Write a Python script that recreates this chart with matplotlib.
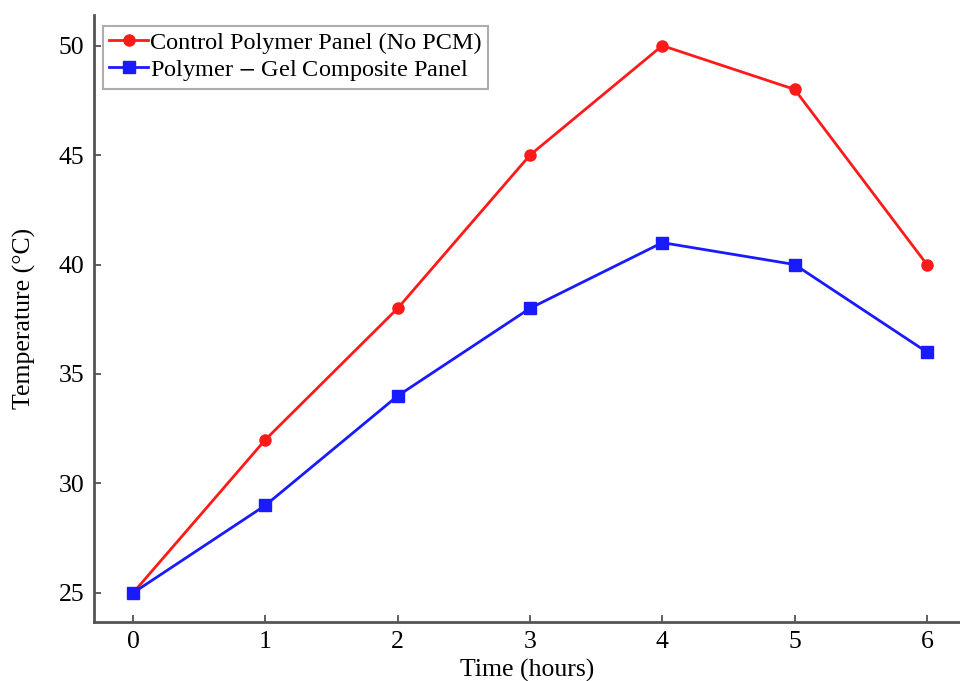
import matplotlib
matplotlib.use("Agg")
import matplotlib.pyplot as plt

plt.rcParams['font.family'] = ['Liberation Serif', 'DejaVu Serif']
plt.rcParams['mathtext.fontset'] = 'stix'

time_hours = [0, 1, 2, 3, 4, 5, 6]
control_temp = [25, 32, 38, 45, 50, 48, 40]
gel_temp = [25, 29, 34, 38, 41, 40, 36]
x_ticks = [0, 1, 2, 3, 4, 5, 6]
y_ticks = [25, 30, 35, 40, 45, 50]

fig = plt.figure(figsize=(9.6, 6.81), dpi=100)
ax = fig.add_axes([0.098, 0.087, 0.902, 0.891])

ax.plot(time_hours, control_temp, color='#ff1a1a', lw=2, marker='o', ms=8,
        label='Control Polymer Panel (No PCM)')
ax.plot(time_hours, gel_temp, color='#1a1aff', lw=2, marker='s', ms=8,
        label='Polymer $-$ Gel Composite Panel')

ax.set_xlim(-0.295, 6.25)
ax.set_ylim(23.68, 51.4)
ax.set_xticks(x_ticks)
ax.set_yticks(y_ticks)
ax.tick_params(direction='in', labelsize=18.5, length=5, width=1.2, colors='#444444',
               labelcolor='black', pad=7)
ax.spines['top'].set_visible(False)
ax.spines['right'].set_visible(False)
for s in ('left', 'bottom'):
    ax.spines[s].set_linewidth(2)
    ax.spines[s].set_color('#555555')

ax.set_xlabel('Time (hours)', fontsize=18.5, labelpad=4)
ax.set_ylabel('Temperature (°C)', fontsize=18.5, labelpad=16)

leg = ax.legend(loc='upper left', fontsize=17.5, handlelength=1.6, handletextpad=0.1,
                borderpad=0.25, labelspacing=0.15, borderaxespad=0, fancybox=False,
                bbox_to_anchor=(0.0104, 0.982))
leg.get_frame().set_edgecolor('#999999')
leg.get_frame().set_linewidth(1.5)

fig.savefig('out.png', dpi=100)
